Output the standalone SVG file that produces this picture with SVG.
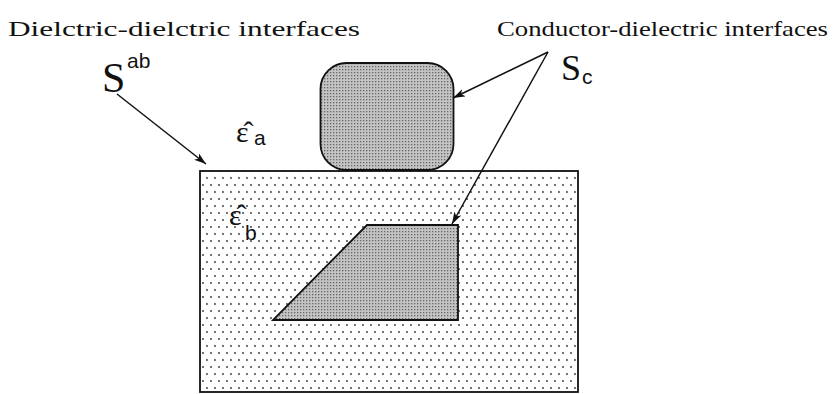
<svg xmlns="http://www.w3.org/2000/svg" width="833" height="394" viewBox="0 0 833 394">
<style>
.lbl{font-family:"Liberation Serif","Times New Roman",serif;fill:#111}
.sub{font-family:"Liberation Sans",Arial,sans-serif;fill:#111}
.conn{stroke:#111;stroke-width:1.5;fill:none}
.cond{fill:url(#dense);stroke:#111;stroke-width:1.8}
</style>
<defs>
<pattern id="sparse" width="16" height="14" patternUnits="userSpaceOnUse">
<rect width="16" height="14" fill="#fff"/>
<circle cx="3" cy="3" r="0.9" fill="#333"/>
<circle cx="11" cy="3" r="0.9" fill="#333"/>
<circle cx="7" cy="10" r="0.9" fill="#333"/>
<circle cx="15" cy="10" r="0.9" fill="#333"/>
</pattern>
<pattern id="dense" width="3" height="3" patternUnits="userSpaceOnUse">
<rect width="3" height="3" fill="#c4c4c4"/>
<rect x="0" y="0" width="1.3" height="1.3" fill="#666"/>
</pattern>
<marker id="arr" viewBox="0 0 12 8" refX="12" refY="4" markerWidth="12" markerHeight="8" markerUnits="userSpaceOnUse" orient="auto">
<path d="M0,0 L12,4 L0,8 L3,4 Z" fill="#111"/>
</marker>
</defs>
<rect width="833" height="394" fill="#fff"/>
<g id="substrate">
<rect x="200" y="171" width="378" height="221" fill="url(#sparse)" stroke="#111" stroke-width="1.8"/>
</g>
<g id="top-conductor">
<rect x="320.5" y="63" width="133" height="107" rx="26" ry="26" class="cond"/>
</g>
<g id="buried-conductor">
<polygon points="367,225 458,225 458,320 273,320" class="cond"/>
</g>
<g id="labels">
<text class="lbl" x="8" y="36" font-size="21" textLength="352" lengthAdjust="spacingAndGlyphs">Dielctric-dielctric interfaces</text>
<text class="lbl" x="497" y="36" font-size="21" textLength="331" lengthAdjust="spacingAndGlyphs">Conductor-dielectric interfaces</text>
<text class="lbl" x="102" y="92" font-size="42">S</text>
<text class="sub" x="127" y="68" font-size="21">ab</text>
<text class="lbl" x="561" y="80" font-size="36">S</text>
<text class="sub" x="582" y="84" font-size="21">c</text>
<text class="lbl" x="236" y="142" font-size="30">ε̂</text>
<text class="sub" x="254" y="145" font-size="21">a</text>
<text class="lbl" x="229" y="225" font-size="30">ε̂</text>
<text class="sub" x="245" y="240" font-size="21">b</text>
</g>
<g id="connectors">
<line class="conn" x1="117" y1="94" x2="206" y2="164" marker-end="url(#arr)"/>
<line class="conn" x1="548" y1="52" x2="453" y2="98" marker-end="url(#arr)"/>
<line class="conn" x1="548" y1="52" x2="452" y2="224" marker-end="url(#arr)"/>
</g>
</svg>
